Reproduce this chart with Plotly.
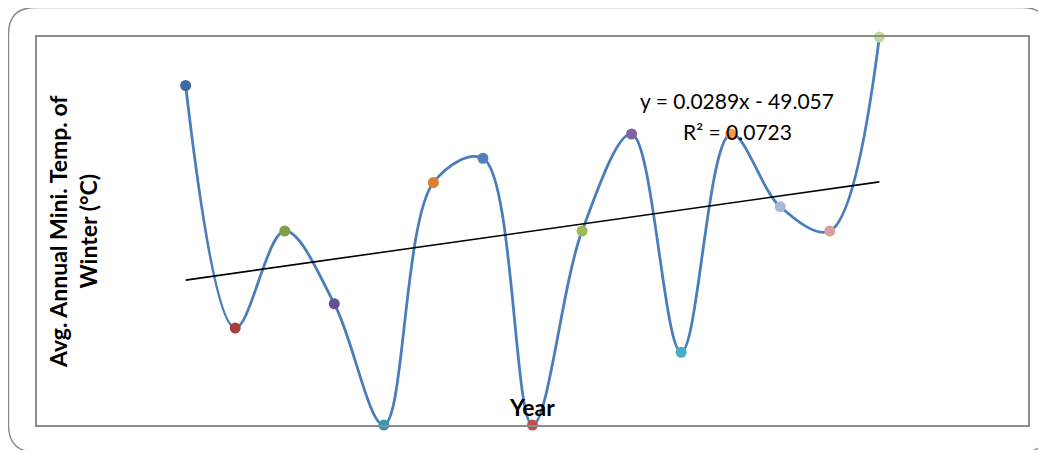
import numpy as np
import plotly.graph_objects as go

years = list(range(1993, 2008))
temps = [9.4, 8.4, 8.8, 8.5, 8.0, 9.0, 9.1, 8.0, 8.8, 9.2, 8.3, 9.2, 8.9, 8.8, 9.6]
point_colors = ["#3C6AA5", "#A4403D", "#839F45", "#6A508E", "#3A97AE", "#DB7F32",
                "#4F81BD", "#C0504D", "#9BBB59", "#8064A2", "#4BACC6", "#F79646",
                "#A7B9DB", "#D9A0A0", "#C3D69B"]
eq_text = "y = 0.0289x - 49.057"
r2_text = "R² = 0.0723"
y_title = "Avg. Annual Mini. Temp. of<br>Winter (°C)"
x_title = "Year"

# page offset of the figure inside the browser window (default body margin)
OFF = 8
W, H = 1046 - OFF, 450 - OFF
ML, MT = 37 - OFF, 37 - OFF
MR = W - (1028 - OFF)
MB = H - (425 - OFF)
PW, PH = W - ML - MR, H - MT - MB

def px(x):
    return (x - OFF - ML) / PW

def py(y):
    return (H - MB - (y - OFF)) / PH

slope, intercept = np.polyfit(years, temps, 1)
trend_x = [years[0], years[-1]]
trend_y = [slope * v + intercept for v in trend_x]

fig = go.Figure()
fig.add_trace(go.Scatter(x=years, y=temps, mode="lines",
                         line=dict(color="#4A7EBB", width=2.8, shape="spline", smoothing=1.0),
                         hoverinfo="skip", showlegend=False))
fig.add_trace(go.Scatter(x=trend_x, y=trend_y, mode="lines",
                         line=dict(color="black", width=1.6), showlegend=False))
fig.add_trace(go.Scatter(x=years, y=temps, mode="markers",
                         marker=dict(color=point_colors, size=11, line=dict(width=0)),
                         cliponaxis=False, showlegend=False))

# outer rounded border (screen pixel coordinates)
l, t, r, b, rad = 8.5, 7.5, 1049, 452, 27
path = (f"M {px(l+rad)} {py(t)} L {px(r-rad)} {py(t)} Q {px(r)} {py(t)} {px(r)} {py(t+rad)} "
        f"L {px(r)} {py(b-rad)} Q {px(r)} {py(b)} {px(r-rad)} {py(b)} "
        f"L {px(l+rad)} {py(b)} Q {px(l)} {py(b)} {px(l)} {py(b-rad)} "
        f"L {px(l)} {py(t+rad)} Q {px(l)} {py(t)} {px(l+rad)} {py(t)} Z")
shapes = [dict(type="path", xref="paper", yref="paper", path=path,
               line=dict(color="#8C8C8C", width=1.5), layer="below")]

font = "Lato, 'Open Sans', sans-serif"
annotations = [
    dict(x=px(737), y=py(101), xref="paper", yref="paper", text=eq_text, showarrow=False,
         font=dict(family=font, size=21, color="black"), xanchor="center", yanchor="middle"),
    dict(x=px(737), y=py(131), xref="paper", yref="paper", text=r2_text, showarrow=False,
         font=dict(family=font, size=21, color="black"), xanchor="center", yanchor="middle"),
    dict(x=px(532), y=py(407), xref="paper", yref="paper", text=f"<b>{x_title}</b>", showarrow=False,
         font=dict(family=font, size=23, color="black"), xanchor="center", yanchor="middle"),
    dict(x=px(73), y=py(232), xref="paper", yref="paper", text=f"<b>{y_title}</b>", showarrow=False,
         textangle=-90, align="center",
         font=dict(family=font, size=23, color="black"), xanchor="center", yanchor="middle"),
]

fig.update_layout(
    width=W, height=H, margin=dict(l=ML, r=MR, t=MT, b=MB),
    paper_bgcolor="white", plot_bgcolor="white",
    xaxis=dict(range=[1990, 2010], showgrid=False, zeroline=False, showticklabels=False,
               ticks="", showline=True, mirror=True, linecolor="#8C8C8C", linewidth=2),
    yaxis=dict(range=[8.0, 9.6], showgrid=False, zeroline=False, showticklabels=False,
               ticks="", showline=True, mirror=True, linecolor="#8C8C8C", linewidth=2),
    shapes=shapes, annotations=annotations, showlegend=False,
)

fig.write_html("out.html")
